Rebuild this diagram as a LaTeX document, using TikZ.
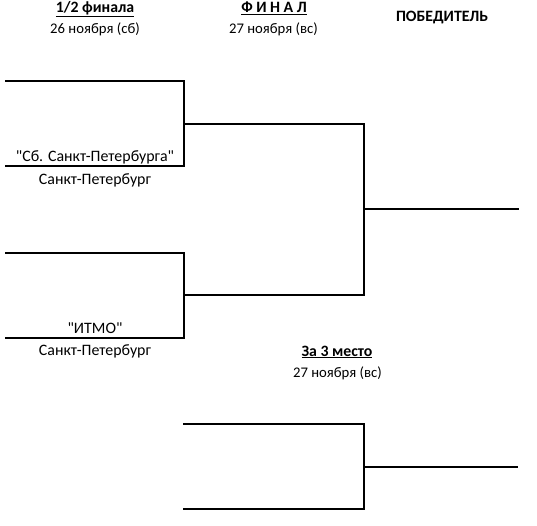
\documentclass[tikz,border=0pt]{standalone}
\usepackage{fontspec}
\setmainfont{Carlito}
\begin{document}
\begin{tikzpicture}[x=1pt,y=-1pt,
  bl/.style={line width=2.2pt,line cap=rect},
  lbl/.style={inner sep=0pt,font=\fontsize{14.7}{17}\selectfont},
  team/.style={inner sep=0pt,font=\fontsize{15.9}{18}\selectfont},
  hdr/.style={inner sep=0pt,font=\fontsize{15.8}{18}\selectfont\bfseries}]
\useasboundingbox (0,0) rectangle (537,526);
% semifinal 1
\coordinate (a1) at (6,81);
\coordinate (a2) at (184,81);
\coordinate (a3) at (184,166);
\coordinate (a4) at (6,166);
% semifinal 2
\coordinate (b1) at (6,253);
\coordinate (b2) at (184,253);
\coordinate (b3) at (184,338);
\coordinate (b4) at (6,338);
% final
\coordinate (f1) at (184,124);
\coordinate (f2) at (364,124);
\coordinate (f3) at (364,295);
\coordinate (f4) at (184,295);
\coordinate (w1) at (364,209);
\coordinate (w2) at (518,209);
% third place
\coordinate (t1) at (184,424);
\coordinate (t2) at (364,424);
\coordinate (t3) at (364,509);
\coordinate (t4) at (184,509);
\coordinate (u1) at (364,467);
\coordinate (u2) at (517,467);
\draw[bl] (a1) -- (a2) -- (a3) -- (a4);
\draw[bl] (b1) -- (b2) -- (b3) -- (b4);
\draw[bl] (f1) -- (f2) -- (f3) -- (f4);
\draw[bl] (w1) -- (w2);
\draw[bl] (t1) -- (t2) -- (t3) -- (t4);
\draw[bl] (u1) -- (u2);
% headers
\node[hdr] (h1) at (95,9) {\underline{1/2 финала}};
\node[lbl] (d1) at (95,29) {26 ноября (сб)};
\node[hdr] (h2) at (274,8) {\underline{Ф И Н А Л}};
\node[lbl] (d2) at (273.5,29) {27 ноября (вс)};
\node[hdr] (h3) at (442,18) {ПОБЕДИТЕЛЬ};
% teams
\node[team] (n1) at (95,157) {\textquotedbl Сб. Санкт-Петербурга\textquotedbl};
\node[team] (c1) at (95,180) {Санкт-Петербург};
\node[team] (n2) at (95,328) {\textquotedbl ИТМО\textquotedbl};
\node[team] (c2) at (95,351) {Санкт-Петербург};
% third place header
\node[hdr] (h4) at (337,352) {\underline{За 3 место}};
\node[lbl] (d4) at (337.5,373) {27 ноября (вс)};
\end{tikzpicture}
\end{document}
